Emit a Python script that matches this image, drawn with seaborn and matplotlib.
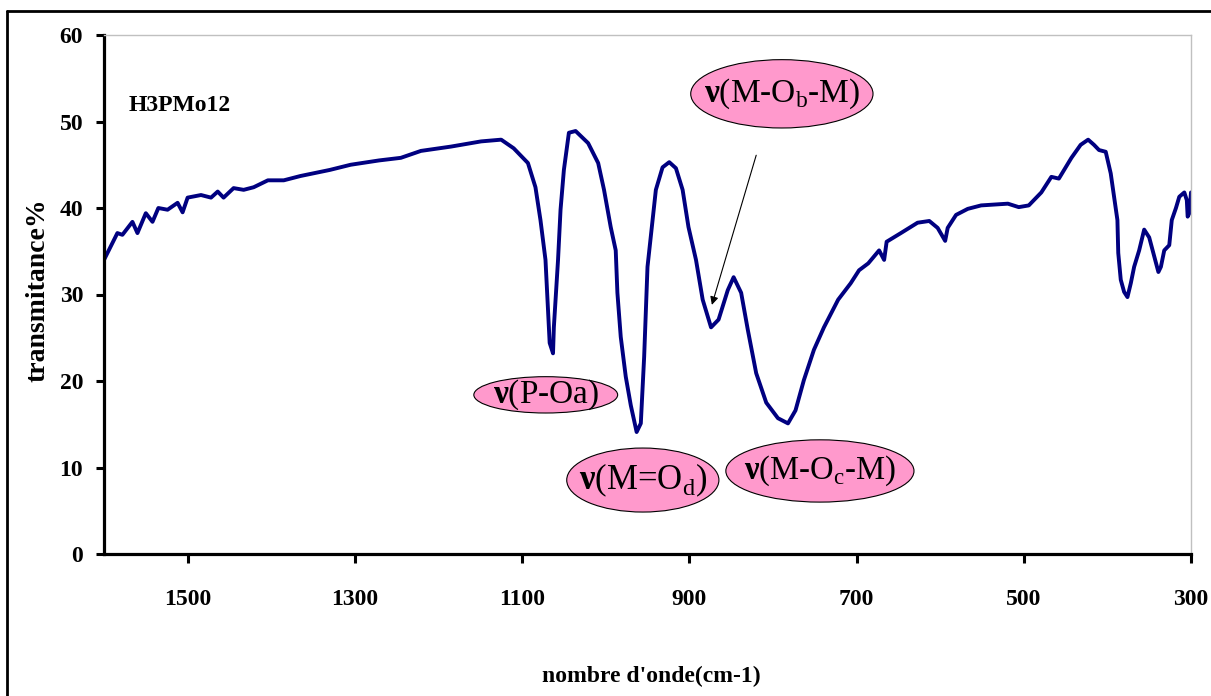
import numpy as np
import pandas as pd
import matplotlib
matplotlib.use("Agg")
import matplotlib.pyplot as plt
from matplotlib.patches import Ellipse
from matplotlib.lines import Line2D
import seaborn as sns

# ---------------- data ----------------
wavenumber = [1600, 1584, 1578, 1566, 1560, 1550, 1542, 1535, 1524, 1512, 1506, 1500,
              1484, 1472, 1464, 1457, 1445, 1433, 1421, 1404, 1385, 1365, 1330, 1305,
              1271, 1245, 1221, 1185, 1149, 1125, 1110, 1093, 1084, 1078, 1072, 1069,
              1067, 1063, 1062, 1057, 1054, 1050, 1044, 1036, 1021, 1009, 1002, 994,
              988, 986, 982, 976, 970, 963, 958, 954, 950, 940, 932, 924, 916, 908,
              901, 892, 884, 874, 865, 854, 847, 838, 830, 820, 808, 794, 782, 773,
              763, 751, 739, 722, 707, 697, 686, 673, 667, 664, 647, 627, 613, 603,
              594, 591, 581, 567, 551, 519, 506, 494, 479, 467, 458, 443, 432, 423,
              416, 410, 402, 396, 392, 388, 387, 384, 380, 376, 372, 368, 362, 356,
              350, 345, 339, 336, 332, 326, 323, 318, 314, 308, 305, 304, 302, 300]
transmittance = [34.0, 37.1, 36.9, 38.4, 37.1, 39.4, 38.4, 40.0, 39.8, 40.6, 39.5, 41.2,
                 41.5, 41.2, 41.9, 41.2, 42.3, 42.1, 42.4, 43.2, 43.2, 43.7, 44.4, 45.0,
                 45.5, 45.8, 46.6, 47.1, 47.7, 47.9, 46.9, 45.2, 42.4, 38.6, 34.0, 28.2,
                 24.4, 23.2, 26.2, 34.0, 39.8, 44.4, 48.7, 48.9, 47.5, 45.2, 42.1, 37.8,
                 35.1, 30.2, 25.1, 20.5, 17.2, 14.1, 15.1, 22.8, 33.2, 42.1, 44.7, 45.3,
                 44.6, 42.1, 37.8, 34.0, 29.4, 26.2, 27.1, 30.5, 32.0, 30.2, 25.9, 20.9,
                 17.5, 15.7, 15.1, 16.6, 20.1, 23.6, 26.2, 29.4, 31.3, 32.8, 33.6, 35.1,
                 34.0, 36.1, 37.1, 38.3, 38.5, 37.7, 36.2, 37.7, 39.2, 39.9, 40.3, 40.5,
                 40.1, 40.3, 41.8, 43.6, 43.4, 45.8, 47.3, 47.9, 47.3, 46.7, 46.5, 44.0,
                 41.3, 38.6, 34.8, 31.7, 30.3, 29.7, 31.3, 33.2, 35.1, 37.5, 36.6, 34.8,
                 32.6, 33.2, 35.1, 35.7, 38.6, 40.0, 41.3, 41.8, 40.9, 39.0, 39.4, 41.8]

x_ticks = [1500, 1300, 1100, 900, 700, 500, 300]
y_ticks = [0, 10, 20, 30, 40, 50, 60]
sample_label = "H3PMo12"
band_labels = [r"$\mathbf{ν}$(P-Oa)",
               r"$\mathbf{ν}$(M=O$_{\mathrm{d}}$)",
               r"$\mathbf{ν}$(M-O$_{\mathrm{c}}$-M)",
               r"$\mathbf{ν}$(M-O$_{\mathrm{b}}$-M)"]

df = pd.DataFrame({"wavenumber": wavenumber, "transmittance": transmittance})

# ---------------- style ----------------
sns.set_style("ticks")
plt.rcParams["font.family"] = ["Liberation Serif", "DejaVu Serif"]
plt.rcParams["font.weight"] = "bold"
plt.rcParams["text.color"] = "black"
plt.rcParams["axes.labelcolor"] = "black"
plt.rcParams["xtick.color"] = "black"
plt.rcParams["ytick.color"] = "black"
plt.rcParams["mathtext.fontset"] = "custom"
plt.rcParams["mathtext.rm"] = "Liberation Serif:normal"
plt.rcParams["mathtext.bf"] = "Liberation Serif:bold"

W, H = 1211, 696
fig = plt.figure(figsize=(W / 100, H / 100), dpi=100)
fig.patch.set_facecolor("white")
ax = fig.add_axes([104 / W, 1 - 554 / H, (1191 - 104) / W, (554 - 35) / H])

sns.lineplot(data=df, x="wavenumber", y="transmittance", sort=False,
             color="#000080", linewidth=2.8, ax=ax, estimator=None)

ax.set_xlim(1600, 300)
ax.set_ylim(0, 60)
ax.set_xticks(x_ticks)
ax.set_xticklabels([str(v) for v in x_ticks])
ax.set_yticks(y_ticks)
ax.set_yticklabels([str(v) for v in y_ticks])
ax.set_xlabel("")
ax.set_ylabel("")

for s in ["left", "bottom"]:
    ax.spines[s].set_color("black")
    ax.spines[s].set_linewidth(2.3)
for s in ["top", "right"]:
    ax.spines[s].set_visible(True)
    ax.spines[s].set_color("#c0c0c0")
    ax.spines[s].set_linewidth(1.0)

ax.tick_params(axis="y", direction="out", length=6, width=2.2, pad=9,
               labelsize=17, colors="black")
ax.tick_params(axis="x", direction="out", length=6.5, width=2.2, pad=19,
               labelsize=17, colors="black")
for lab in ax.get_xticklabels() + ax.get_yticklabels():
    lab.set_fontweight("bold")
    lab.set_color("black")

# sample label
ax.text(1571, 51.9, sample_label, ha="left", va="center", fontsize=17,
        fontweight="bold", color="black")

# band annotations (pink ellipses)
ell_specs = [
    # (center_x, center_y, width, height, fontsize)
    (1071.7, 18.4, 172, 4.2, 24),
    (955.6, 8.55, 182, 7.4, 25),
    (743.8, 9.6, 225, 7.2, 23.5),
    (789.3, 53.2, 218, 7.9, 24),
]
for (cx, cy, ew, eh, fs), lab in zip(ell_specs, band_labels):
    e = Ellipse((cx, cy), ew, eh, facecolor="#ff99cc", edgecolor="black",
                linewidth=0.8, zorder=5)
    ax.add_patch(e)
    ax.text(cx, cy, lab, ha="center", va="center", fontsize=fs,
            fontweight="normal", color="black", zorder=6)

ax.annotate("", xy=(873, 28.8), xytext=(820, 46.1),
            arrowprops=dict(arrowstyle="-|>", color="black", lw=0.8,
                            mutation_scale=12, shrinkA=0, shrinkB=0))

# axis titles
fig.text(38 / W, 1 - 290 / H, "transmitance%", rotation=90, ha="center",
         va="center", fontsize=20, fontweight="bold", color="black")
fig.text(651 / W, 1 - 676 / H, "nombre d'onde(cm-1)", ha="center",
         va="center", fontsize=17, fontweight="bold", color="black")

# outer frame of the chart area
fig.add_artist(Line2D([7 / W, 1.0], [1 - 11 / H, 1 - 11 / H], color="black",
                      linewidth=2.0, transform=fig.transFigure))
fig.add_artist(Line2D([7 / W, 7 / W], [0.0, 1 - 11 / H], color="black",
                      linewidth=2.0, transform=fig.transFigure))

fig.savefig("out.png", dpi=100, facecolor="white")
